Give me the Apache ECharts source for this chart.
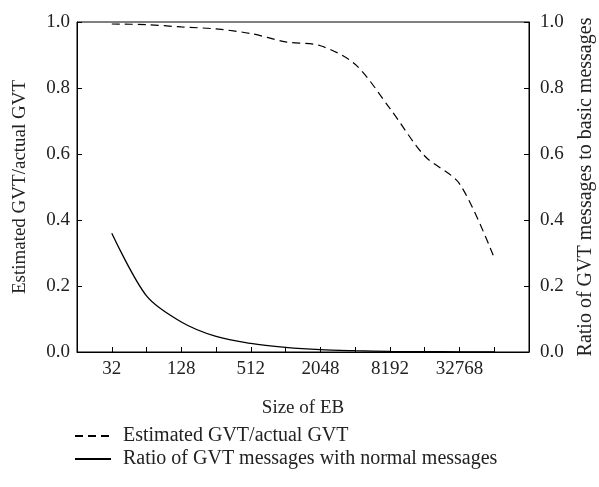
<!DOCTYPE html>
<html><head><meta charset="utf-8">
<script src="https://cdn.jsdelivr.net/npm/echarts@6/dist/echarts.min.js"></script>
<style>html,body{margin:0;padding:0;background:#fff}#c{width:599px;height:487px}</style>
</head><body><div id="c"></div>
<script>
const sizes = ['16','32','64','128','256','512','1024','2048','4096','8192','16384','32768','65536','131072'];
const tickLabels = ['32','128','512','2048','8192','32768'];
const estimatedRatio = [null,0.994,0.992,0.985,0.979,0.965,0.940,0.928,0.872,0.738,0.594,0.510,0.285,null];
const gvtMsgRatio = [null,0.360,0.170,0.091,0.047,0.026,0.014,0.007,0.004,0.002,0.001,0.0005,0.0003,null];
const seriesNames = ['Estimated GVT/actual GVT','Ratio of GVT messages with normal messages'];

const font = 'Liberation Serif';
const fs = 19;
const chart = echarts.init(document.getElementById('c'));
const yAxisCommon = {
  type:'value', min:0, max:1, interval:0.2,
  axisLine:{show:true,lineStyle:{color:'#000',width:1}},
  axisTick:{show:true,inside:true,length:5,lineStyle:{color:'#000'}},
  splitLine:{show:false},
  axisLabel:{color:'#222',fontFamily:font,fontSize:fs,formatter:v=>v.toFixed(1)},
  nameLocation:'middle',
  nameTextStyle:{color:'#222',fontFamily:font,fontSize:fs}
};
chart.setOption({
  animation:false,
  grid:{left:77,right:70,top:22,bottom:135,show:true,borderColor:'#000',borderWidth:1,
        outerBoundsMode:'none',containLabel:false},
  xAxis:{
    type:'category', data:sizes, boundaryGap:false,
    axisLine:{lineStyle:{color:'#000',width:1}},
    axisTick:{show:true,inside:true,length:5,interval:0,lineStyle:{color:'#000'}},
    axisLabel:{color:'#222',fontFamily:font,fontSize:fs,margin:8,
      interval:(i,v)=>tickLabels.indexOf(v)>=0,
      formatter:v=>tickLabels.indexOf(v)>=0?v:''},
    name:'Size of EB', nameLocation:'middle', nameGap:47,
    nameTextStyle:{color:'#222',fontFamily:font,fontSize:fs}
  },
  yAxis:[
    Object.assign({},yAxisCommon,{position:'left',name:'Estimated GVT/actual GVT',nameGap:47,
      axisLabel:Object.assign({},yAxisCommon.axisLabel,{margin:7})}),
    Object.assign({},yAxisCommon,{position:'right',name:'Ratio of GVT messages to basic messages',nameGap:47,
      nameRotate:90,
      nameTextStyle:{color:'#222',fontFamily:font,fontSize:20},
      axisLabel:Object.assign({},yAxisCommon.axisLabel,{margin:11})})
  ],
  legend:{
    orient:'vertical', left:69, top:421, itemGap:3, itemWidth:36, itemHeight:18,
    itemStyle:{opacity:0},
    textStyle:{color:'#222',fontFamily:font,fontSize:20,padding:[0,0,0,7]},
    data:seriesNames
  },
  series:[
    {name:seriesNames[0],type:'line',data:estimatedRatio,smooth:0.3,symbol:'none',yAxisIndex:0,
     lineStyle:{color:'#000',width:1.2,type:[8,5]},itemStyle:{color:'#000'}},
    {name:seriesNames[1],type:'line',data:gvtMsgRatio,smooth:0.3,symbol:'none',yAxisIndex:1,
     lineStyle:{color:'#000',width:1.3},itemStyle:{color:'#000'}}
  ]
});
</script></body></html>
